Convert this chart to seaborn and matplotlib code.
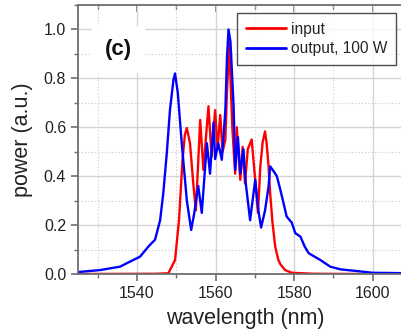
import matplotlib
matplotlib.use("Agg")
import matplotlib.pyplot as plt
from matplotlib.ticker import MultipleLocator, FormatStrFormatter
import seaborn as sns
import pandas as pd

# ---- data ----
input_wl = [1525, 1545.0, 1548.0, 1549.7, 1550.7, 1551.6, 1552.2, 1552.7, 1553.5, 1554.4,
            1555.0, 1556.1, 1556.9, 1558.2, 1559.0, 1559.9, 1560.5, 1561.2, 1561.8, 1562.5,
            1562.9, 1563.5, 1563.8, 1564.3, 1565.0, 1565.4, 1566.3, 1566.9, 1567.5, 1568.2,
            1569.2, 1570.1, 1570.8, 1571.4, 1572.0, 1572.6, 1573.0, 1573.5, 1573.9, 1574.5,
            1575.2, 1576.0, 1576.5, 1577.7, 1579.4, 1585, 1597]
input_p = [0.0, 0.001, 0.003, 0.057, 0.22, 0.467, 0.57, 0.597, 0.535, 0.358,
           0.26, 0.63, 0.426, 0.686, 0.48, 0.67, 0.51, 0.65, 0.50, 0.55,
           0.74, 0.945, 0.80, 0.59, 0.41, 0.60, 0.385, 0.52, 0.37, 0.51,
           0.55, 0.385, 0.25, 0.44, 0.54, 0.583, 0.535, 0.44, 0.33, 0.21,
           0.11, 0.057, 0.04, 0.016, 0.005, 0.001, 0.0]

output_wl = [1525, 1530.6, 1535.7, 1537.4, 1540.8, 1542.9, 1544.6, 1545.9, 1546.7, 1547.6,
             1548.4, 1549.3, 1549.7, 1550.4, 1551.4, 1552.7, 1553.8, 1554.6, 1555.2, 1555.6,
             1556.5, 1557.8, 1558.6, 1559.5, 1559.9, 1560.7, 1561.6, 1562.5, 1562.9, 1563.3,
             1563.8, 1564.6, 1565.0, 1565.7, 1566.3, 1567.1, 1567.7, 1568.8, 1570.1, 1570.9,
             1571.6, 1572.6, 1573.5, 1573.9, 1574.8, 1575.6, 1576.5, 1577.3, 1578.1, 1579.4,
             1580.3, 1581.6, 1582.7, 1583.7, 1586.7, 1589.2, 1591.8, 1596.0, 1600, 1610]
output_p = [0.008, 0.016, 0.03, 0.044, 0.071, 0.112, 0.14, 0.22, 0.33, 0.495,
            0.67, 0.795, 0.82, 0.74, 0.535, 0.30, 0.18, 0.25, 0.32, 0.36,
            0.25, 0.535, 0.41, 0.62, 0.47, 0.535, 0.467, 0.67, 0.88, 1.00,
            0.95, 0.686, 0.426, 0.56, 0.41, 0.51, 0.37, 0.22, 0.385, 0.26,
            0.19, 0.26, 0.358, 0.44, 0.42, 0.40, 0.344, 0.29, 0.235, 0.21,
            0.167, 0.153, 0.112, 0.085, 0.057, 0.03, 0.019, 0.012, 0.005, 0.003]

series_names = ["input", "output, 100 W"]
series_colors = ["#ff0000", "#0000ff"]

df = pd.concat([
    pd.DataFrame({"wavelength": input_wl, "power": input_p, "series": series_names[0]}),
    pd.DataFrame({"wavelength": output_wl, "power": output_p, "series": series_names[1]}),
], ignore_index=True)

sns.set_style("white")
plt.rcParams["font.family"] = ["Liberation Sans", "DejaVu Sans"]

fig = plt.figure(figsize=(4.01, 3.34), dpi=100)
ax = fig.add_axes([78 / 401, 60 / 334, 334 / 401, 269 / 334])

sns.lineplot(data=df, x="wavelength", y="power", hue="series",
             palette=dict(zip(series_names, series_colors)),
             sort=False, estimator=None, linewidth=1.7, ax=ax)
for ln in ax.get_lines():
    ln.set_solid_joinstyle("round")

ax.set_xlim(1525, 1610)
ax.set_ylim(0, 1.1)
ax.xaxis.set_major_locator(MultipleLocator(20))
ax.xaxis.set_minor_locator(MultipleLocator(10))
ax.yaxis.set_major_locator(MultipleLocator(0.2))
ax.yaxis.set_minor_locator(MultipleLocator(0.1))
ax.yaxis.set_major_formatter(FormatStrFormatter("%.1f"))

ax.grid(which="major", color="#d4d4d4", linewidth=1.0, linestyle="-")
ax.grid(which="minor", color="#c8c8c8", linewidth=0.8, linestyle=(0, (1, 2)))
ax.set_axisbelow(True)

for s in ["left", "bottom", "top", "right"]:
    ax.spines[s].set_color("#6e6e6e")
    ax.spines[s].set_linewidth(1.3)

ax.tick_params(which="both", axis="x", bottom=True, top=False, direction="out",
               colors="#6e6e6e", labelcolor="#222222", labelsize=11.5)
ax.tick_params(which="both", axis="y", left=True, direction="out",
               colors="#6e6e6e", labelcolor="#222222", labelsize=11.5)
ax.tick_params(which="major", length=5, width=1.2)
ax.tick_params(which="minor", length=3, width=1.0)

# top inward ticks
sec = ax.secondary_xaxis("top")
sec.xaxis.set_major_locator(MultipleLocator(20))
sec.xaxis.set_minor_locator(MultipleLocator(10))
sec.tick_params(which="both", direction="in", colors="#6e6e6e", labeltop=False)
sec.tick_params(which="major", length=5, width=1.2)
sec.tick_params(which="minor", length=3, width=1.0)
sec.spines["top"].set_visible(False)

ax.set_xlabel("wavelength (nm)", fontsize=15.5, color="#222222", labelpad=5)
ax.set_ylabel("power (a.u.)", fontsize=15.5, color="#222222", labelpad=8)

ax.text(1535.3, 0.918, "(c)", fontsize=16, fontweight="bold", ha="center", va="center",
        color="#111111",
        bbox=dict(facecolor="white", edgecolor="none", boxstyle="square,pad=0.6"))

leg = ax.legend(loc="upper left", bbox_to_anchor=(237 / 401, (334 - 13) / 334),
                bbox_transform=fig.transFigure, frameon=True, fancybox=False,
                fontsize=11.2, handlelength=2.6, handletextpad=0.3,
                borderpad=0.55, labelspacing=0.3, borderaxespad=0)
leg.get_frame().set_edgecolor("#222222")
leg.get_frame().set_linewidth(1.0)
for line in leg.get_lines():
    line.set_linewidth(2.0)

fig.savefig("out.png", dpi=100)
